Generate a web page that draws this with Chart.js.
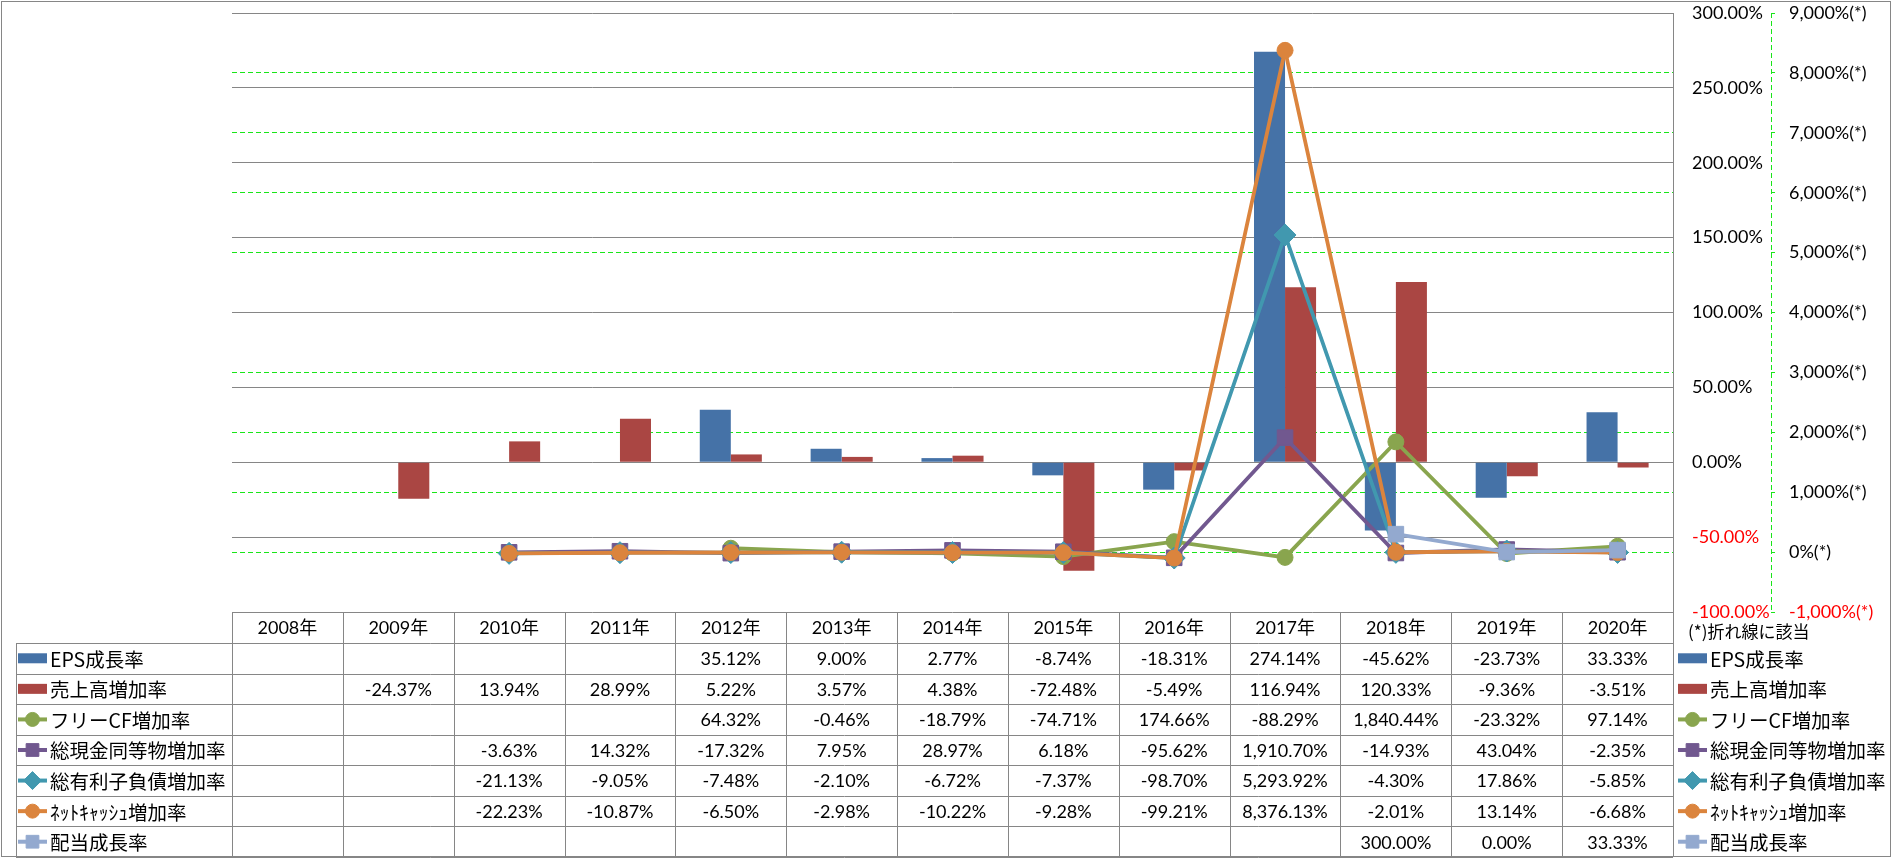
<!DOCTYPE html>
<html lang="ja">
<head>
<meta charset="UTF-8">
<title>成長率チャート</title>
<script src="https://cdn.jsdelivr.net/npm/chart.js@4"></script>
<style>
  html, body { margin: 0; padding: 0; background: #fff; }
  canvas { display: block; }
</style>
</head>
<body>
<canvas id="growthChart" width="1893" height="858"></canvas>
<script>
// 年次ラベル
const years = ['2008年', '2009年', '2010年', '2011年', '2012年', '2013年', '2014年',
               '2015年', '2016年', '2017年', '2018年', '2019年', '2020年'];

// 棒グラフ (左目盛り: %)
const epsGrowth = [null, null, null, null, 35.12, 9.00, 2.77, -8.74, -18.31, 274.14, -45.62, -23.73, 33.33];
const salesGrowth = [null, -24.37, 13.94, 28.99, 5.22, 3.57, 4.38, -72.48, -5.49, 116.94, 120.33, -9.36, -3.51];

// 折れ線 (右目盛り: %(*))
const freeCfGrowth = [null, null, null, null, 64.32, -0.46, -18.79, -74.71, 174.66, -88.29, 1840.44, -23.32, 97.14];
const cashGrowth = [null, null, -3.63, 14.32, -17.32, 7.95, 28.97, 6.18, -95.62, 1910.70, -14.93, 43.04, -2.35];
const debtGrowth = [null, null, -21.13, -9.05, -7.48, -2.10, -6.72, -7.37, -98.70, 5293.92, -4.30, 17.86, -5.85];
const netCashGrowth = [null, null, -22.23, -10.87, -6.50, -2.98, -10.22, -9.28, -99.21, 8376.13, -2.01, 13.14, -6.68];
const dividendGrowth = [null, null, null, null, null, null, null, null, null, null, 300.00, 0.00, 33.33];

// 目盛り範囲
const barAxisRange = [-100, 300, 50];
const lineAxisRange = [-1000, 9000, 1000];
// 灰色の実線と重なる第2軸の目盛り
const hiddenLineGrid = [-1000, 4000, 9000];

const FONT = "Lato, 'Noto Sans CJK JP', sans-serif";
const JP_FONT = "'Noto Sans CJK JP', sans-serif";
const GRID_GRAY = '#868686';
const GREEN = '#19e619';

// 数値 → 表示用
function fmtPct(v) {
    return v.toLocaleString('en-US', { minimumFractionDigits: 2, maximumFractionDigits: 2 }) + '%';
}

function lineSet(label, data, color, style, radius, order) {
    return {
        type: 'line',
        label: label,
        data: data,
        yAxisID: 'y2',
        borderColor: color,
        backgroundColor: color,
        borderWidth: 3.8,
        pointStyle: style,
        pointRadius: radius,
        pointBackgroundColor: color,
        pointBorderColor: color,
        pointBorderWidth: 1,
        tension: 0,
        order: order
    };
}

// 表とレジェンドの描画
const tablePlugin = {
    id: 'dataTable',
    afterDraw(chart) {
        const ctx = chart.ctx;
        const area = chart.chartArea;
        const n = years.length;
        const colW = (area.right - area.left) / n;
        const top = area.bottom;
        const headBottom = top + 31;
        const bottom = chart.height - 1;
        const rowH = (bottom - headBottom) / 7;
        const legendLeft = 16;

        ctx.save();

        // 右側第2軸 (破線)
        const y2 = chart.scales.y2;
        ctx.strokeStyle = GREEN;
        ctx.lineWidth = 1;
        ctx.setLineDash([5, 3]);
        ctx.beginPath();
        ctx.moveTo(Math.round(y2.left) + 0.5, area.top);
        ctx.lineTo(Math.round(y2.left) + 0.5, area.bottom);
        ctx.stroke();
        ctx.setLineDash([]);

        // 罫線
        ctx.strokeStyle = GRID_GRAY;
        ctx.lineWidth = 1;
        ctx.beginPath();
        for (let r = 0; r <= 7; r++) {
            const yy = Math.round(headBottom + r * rowH) + 0.5;
            ctx.moveTo(legendLeft, yy);
            ctx.lineTo(area.right, yy);
        }
        ctx.moveTo(legendLeft + 0.5, headBottom);
        ctx.lineTo(legendLeft + 0.5, bottom);
        for (let c = 0; c <= n; c++) {
            const xx = Math.round(area.left + c * colW) + 0.5;
            ctx.moveTo(xx, top);
            ctx.lineTo(xx, bottom);
        }
        ctx.stroke();

        // 外枠
        ctx.strokeRect(1.5, 1.5, chart.width - 4, chart.height - 3);

        // 年ヘッダー
        ctx.fillStyle = '#000';
        ctx.textAlign = 'center';
        ctx.textBaseline = 'middle';
        ctx.font = '18px ' + FONT;
        years.forEach((yr, i) => {
            ctx.fillText(yr, chart.scales.x.getPixelForValue(i), (top + headBottom) / 2 + 1);
        });

        // 各系列の行
        chart.data.datasets.forEach((ds, r) => {
            const cy = headBottom + (r + 0.5) * rowH;
            ctx.fillStyle = '#000';
            ctx.textAlign = 'center';
            ctx.font = '18px ' + FONT;
            ds.data.forEach((v, i) => {
                if (v === null) return;
                ctx.fillText(fmtPct(v), chart.scales.x.getPixelForValue(i), cy + 1);
            });
            drawLegendItem(ctx, ds, 18, cy);
            drawLegendItem(ctx, ds, area.right + 5, cy);
        });

        // 注記
        ctx.fillStyle = '#000';
        ctx.textAlign = 'left';
        ctx.font = '17px ' + JP_FONT;
        ctx.fillText('(*)折れ線に該当', area.right + 15, top + 20);

        ctx.restore();
    }
};

function drawLegendItem(ctx, ds, x0, cy) {
    const w = 29;
    ctx.save();
    if (ds.type === 'line') {
        ctx.strokeStyle = ds.borderColor;
        ctx.lineWidth = 4;
        ctx.beginPath();
        ctx.moveTo(x0, cy);
        ctx.lineTo(x0 + w, cy);
        ctx.stroke();
        ctx.fillStyle = ds.borderColor;
        ctx.strokeStyle = ds.borderColor;
        ctx.lineWidth = 1;
        Chart.helpers.drawPoint(ctx, {
            pointStyle: ds.pointStyle,
            radius: ds.pointStyle === 'circle' ? 7 : 9,
            borderWidth: 1,
            rotation: 0
        }, x0 + w / 2, cy);
    } else {
        ctx.fillStyle = ds.backgroundColor;
        ctx.fillRect(x0, cy - 5, w, 10);
    }
    ctx.fillStyle = '#000';
    ctx.textAlign = 'left';
    ctx.textBaseline = 'middle';
    ctx.font = '19.5px ' + JP_FONT;
    ctx.fillText(ds.label, x0 + w + 3, cy + 1);
    ctx.restore();
}

const tickColor = c => (c.tick && c.tick.value < 0) ? '#ff0000' : '#000000';

// 目盛りラベルのはみ出し分をレイアウトに加えない
function fixAxis(width) {
    return s => {
        s.width = width;
        s.paddingTop = 0;
        s.paddingBottom = 0;
    };
}

new Chart(document.getElementById('growthChart'), {
    type: 'bar',
    data: {
        labels: years,
        datasets: [
            { label: 'EPS成長率', data: epsGrowth, yAxisID: 'y', backgroundColor: '#4572A7', order: 10 },
            { label: '売上高増加率', data: salesGrowth, yAxisID: 'y', backgroundColor: '#AA4643', order: 10 },
            lineSet('フリーCF増加率', freeCfGrowth, '#89A54E', 'circle', 8, 5),
            lineSet('総現金同等物増加率', cashGrowth, '#71588F', 'rect', 11, 4),
            lineSet('総有利子負債増加率', debtGrowth, '#4198AF', 'rectRot', 11, 3),
            lineSet('ﾈｯﾄｷｬｯｼｭ増加率', netCashGrowth, '#DB843D', 'circle', 8, 2),
            lineSet('配当成長率', dividendGrowth, '#93A9CF', 'rect', 11, 1)
        ]
    },
    options: {
        responsive: false,
        animation: false,
        devicePixelRatio: 1,
        layout: { padding: { left: 232, top: 13, right: 0, bottom: 246 } },
        datasets: {
            bar: { categoryPercentage: 0.56, barPercentage: 1.0 }
        },
        plugins: {
            legend: { display: false },
            tooltip: { enabled: false }
        },
        scales: {
            x: { display: false, offset: true },
            y: {
                position: 'right',
                weight: 0,
                min: barAxisRange[0],
                max: barAxisRange[1],
                grid: { color: GRID_GRAY, drawTicks: false, lineWidth: 1 },
                border: { display: true, color: GRID_GRAY },
                ticks: {
                    stepSize: barAxisRange[2],
                    padding: 19,
                    color: tickColor,
                    font: { family: FONT, size: 18 },
                    callback: v => v.toFixed(2) + '%'
                },
                afterFit: fixAxis(98)
            },
            y2: {
                position: 'right',
                weight: 1,
                min: lineAxisRange[0],
                max: lineAxisRange[1],
                grid: {
                    color: c => (c.tick && hiddenLineGrid.includes(c.tick.value)) ? 'rgba(0,0,0,0)' : GREEN,
                    tickColor: GREEN,
                    tickLength: 4,
                    lineWidth: 1
                },
                border: { display: false, dash: [5, 3] },
                ticks: {
                    stepSize: lineAxisRange[2],
                    padding: 14,
                    color: tickColor,
                    font: { family: FONT, size: 18 },
                    callback: v => v.toLocaleString('en-US') + '%(*)'
                },
                afterFit: fixAxis(122)
            }
        }
    },
    plugins: [tablePlugin]
});
</script>
</body>
</html>
